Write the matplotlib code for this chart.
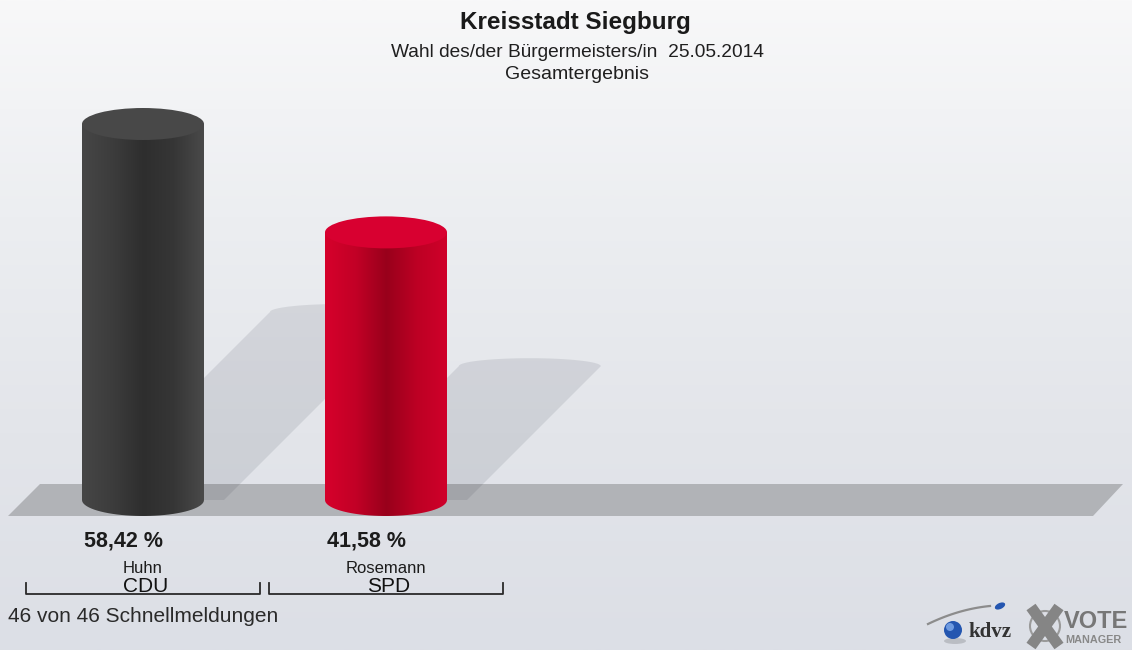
import numpy as np
import matplotlib
matplotlib.use('Agg')
import matplotlib.pyplot as plt
import matplotlib.transforms as mtransforms
from matplotlib.patches import Polygon, Ellipse, PathPatch, Circle
from matplotlib.path import Path
from matplotlib.colors import LinearSegmentedColormap

plt.rcParams['font.family'] = ['Liberation Sans', 'DejaVu Sans']

# data
candidates = ['Huhn', 'Rosemann']
parties = ['CDU', 'SPD']
shares = [58.42, 41.58]
share_labels = ['58,42 %', '41,58 %']
title = 'Kreisstadt Siegburg'
subtitle = 'Wahl des/der Bürgermeisters/in  25.05.2014'
subtitle2 = 'Gesamtergebnis'
footnote = '46 von 46 Schnellmeldungen'

body_colors = {
    'CDU': ['#464646', '#3c3c3c', '#2e2e2e', '#363636', '#4a4a4a'],
    'SPD': ['#d6002b', '#c20026', '#98001b', '#bd0024', '#d0002a'],
}
top_colors = {'CDU': '#484848', 'SPD': '#d80030'}

W, H = 1132, 650
px_x = 243.0      # pixels per category step
px_y = 6.436      # pixels per percent point
x0, y0 = 143.0, 500.0   # pixel position of first bar base

fig = plt.figure(figsize=(W / 100, H / 100), dpi=100)

# background (pixel coordinates)
bg = fig.add_axes([0, 0, 1, 1], label='bg')
bg.set_xlim(0, W)
bg.set_ylim(H, 0)
bg.axis('off')
bg_cmap = LinearSegmentedColormap.from_list('bg', ['#f8f8f9', '#eceef1', '#e3e5ea', '#dcdfe6'])
grad = np.linspace(0, 1, 256).reshape(-1, 1)
bg.imshow(grad, cmap=bg_cmap, extent=(0, W, H, 0), aspect='auto', zorder=0)

# floor
bg.add_patch(Polygon([(40, 484), (1123, 484), (1093, 516), (8, 516)],
                     closed=True, facecolor='#b1b3b7', edgecolor='none', zorder=1))

# data axes
ax = fig.add_axes([0, 0, 1, 1], label='data')
ax.patch.set_alpha(0)
ax.axis('off')

bw = 122 / px_x
eh = 32 / px_y
xs = np.arange(len(shares))

for i, v, party, lab in zip(xs, shares, parties, share_labels):
    xl, xr = i - bw / 2, i + bw / 2

    # shadow thrown to the upper right
    s = 0.5 * v
    dx = s * px_y / px_x
    off = 10 / px_x
    t = np.linspace(0, np.pi, 40)
    arc = np.column_stack([i + dx + off + (bw / 2 + off) * np.cos(t),
                           s + eh * 0.25 * np.sin(t)])
    pts = np.vstack([[xl, 0], [xr + 2 * off, 0], arc, [xl + dx, s]])
    ax.add_patch(Polygon(pts, closed=True, facecolor='#2a3040', alpha=0.11,
                         edgecolor='none', zorder=1))

    # cylinder body
    tb = np.linspace(np.pi, 2 * np.pi, 40)
    bottom = np.column_stack([i + bw / 2 * np.cos(tb), eh / 2 * np.sin(tb)])
    verts = np.vstack([[xl, v], [xl, 0], bottom, [xr, v], [xl, v]])
    codes = [Path.MOVETO] + [Path.LINETO] * (len(verts) - 2) + [Path.CLOSEPOLY]
    body = PathPatch(Path(verts, codes), facecolor='none', edgecolor='none')
    ax.add_patch(body)
    cm = LinearSegmentedColormap.from_list(party, body_colors[party])
    im = ax.imshow(np.linspace(0, 1, 128).reshape(1, -1), cmap=cm,
                   extent=(xl, xr, -eh / 2, v), aspect='auto', zorder=3)
    im.set_clip_path(body)

    # top face
    ax.add_patch(Ellipse((i, v), bw, eh, facecolor=top_colors[party],
                         edgecolor='none', zorder=4))

    ax.text(i - 19.5 / px_x, -47 / px_y, lab,
            ha='center', va='baseline', fontsize=15.5, fontweight='bold',
            color='#1c1c1c', zorder=5)

ax.set_xlim(-x0 / px_x, (W - x0) / px_x)
ax.set_ylim(-(H - y0) / px_y, y0 / px_y)

# category labels and brackets (x in data, y in pixels)
blend = mtransforms.blended_transform_factory(ax.transData, bg.transData)
for i, name, party in zip(xs, candidates, parties):
    ax.text(i, 573, name, transform=blend, ha='center', va='baseline',
            fontsize=12, color='#1c1c1c')
    ax.text(i + 0.01, 592, party, transform=blend, ha='center', va='baseline',
            fontsize=15, color='#111111')
    ax.plot([i - 0.482, i - 0.482, i + 0.482, i + 0.482], [583, 594, 594, 583],
            transform=blend, color='#2a2a2a', lw=1.3, clip_on=False)

# titles
bg.text(575, 29, title, ha='center', va='baseline', fontsize=17.5,
        fontweight='bold', color='#1a1a1a', zorder=5)
bg.text(577, 57, subtitle, ha='center', va='baseline', fontsize=13.8,
        color='#1f1f1f', zorder=5)
bg.text(577, 79, subtitle2, ha='center', va='baseline', fontsize=14,
        color='#1f1f1f', zorder=5)
bg.text(8, 622, footnote, ha='left', va='baseline', fontsize=15,
        color='#2a2a2a', zorder=5)

# logo
tl = np.linspace(0, 1, 50)
bg.plot(928 + 62 * tl, 624 - 30 * tl + 12 * tl ** 2, color='#8c8c8c', lw=1.6, zorder=5)
bg.add_patch(Ellipse((955, 641), 22, 6, facecolor='#9a9ca2', alpha=0.5,
                     edgecolor='none', zorder=5))
bg.add_patch(Circle((953, 630), 9, facecolor='#2456b0', edgecolor='none', zorder=6))
bg.add_patch(Circle((950, 627), 4, facecolor='#6f9be0', edgecolor='none', zorder=6))
bg.add_patch(Ellipse((1000, 606), 11, 6, angle=-25, facecolor='#2456b0',
                     edgecolor='none', zorder=6))
bg.text(968, 637, 'kdvz', family='Liberation Serif', fontweight='bold',
        fontsize=15, color='#333333', ha='left', va='baseline', zorder=6)
bg.add_patch(Circle((1045, 626), 15, facecolor='none', edgecolor='#9a9a9a',
                    lw=1.5, zorder=6))
bg.plot([1031, 1059], [607, 646], color='#858585', lw=8, solid_capstyle='butt', zorder=7)
bg.plot([1059, 1031], [607, 646], color='#858585', lw=8, solid_capstyle='butt', zorder=7)
bg.text(1064, 628, 'VOTE', fontweight='bold', fontsize=17, color='#777777',
        ha='left', va='baseline', zorder=6)
bg.text(1065, 643, 'MANAGER', fontweight='bold', fontsize=7.8, color='#888888',
        ha='left', va='baseline', zorder=6)

fig.savefig('out.png', dpi=100)
